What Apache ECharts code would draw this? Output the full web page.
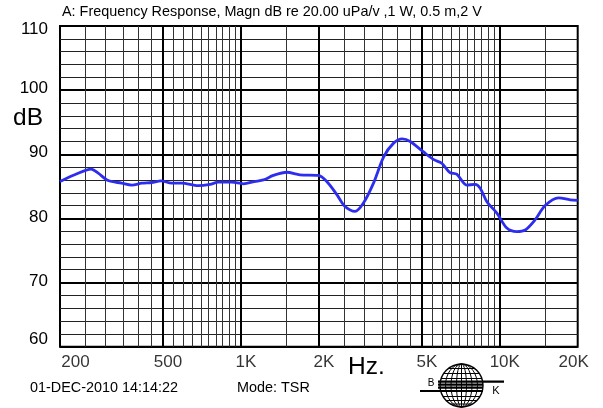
<!DOCTYPE html>
<html>
<head>
<meta charset="utf-8">
<script src="https://cdn.jsdelivr.net/npm/echarts@6/dist/echarts.min.js"></script>
<style>
html,body{margin:0;padding:0;background:#fff;}
#c{width:603px;height:408px;}
</style>
</head>
<body>
<div id="c"></div>
<script>
// ---- data ----
const freqHz = [200, 228, 264, 281, 307, 346, 379, 414, 452, 491, 540, 590, 684, 760, 818, 921, 1023, 1127, 1222, 1334, 1504, 1690, 1990, 2146, 2348, 2520, 2760, 2974, 3252, 3560, 3880, 4200, 4506, 5060, 5540, 5966, 6420, 6820, 7450, 8030, 8400, 8920, 9760, 10650, 11640, 12540, 13700, 14970, 16870, 18700, 20000];
const levelDb = [85.75, 86.8, 87.7, 87.05, 85.9, 85.5, 85.2, 85.5, 85.6, 85.85, 85.5, 85.5, 85.1, 85.3, 85.65, 85.65, 85.4, 85.75, 86.0, 86.7, 87.2, 86.8, 86.7, 85.75, 83.7, 81.9, 81.1, 82.4, 85.5, 89.6, 91.7, 92.4, 92.0, 90.4, 89.2, 88.6, 87.15, 86.9, 85.2, 85.3, 84.7, 82.6, 80.8, 78.5, 77.95, 78.2, 79.8, 82.0, 83.2, 82.9, 82.8];
const thinGridHz = [250, 300, 350, 400, 450, 550, 600, 650, 700, 750, 800, 850, 900, 950, 1500, 2500, 3000, 3500, 4000, 4500, 5500, 6000, 6500, 7000, 7500, 8000, 8500, 9000, 9500, 15000];
const thickGridHz = [500, 1000, 2000, 5000, 10000];
const tickHz = [200, 500, 1000, 2000, 5000, 10000, 20000];
const tickText = ['200', '500', '1K', '2K', '5K', '10K', '20K'];
const yTicks = [60, 70, 80, 90, 100, 110];
const titleText = 'A: Frequency Response, Magn dB re 20.00 uPa/v ,1 W, 0.5 m,2 V';
const dateText = '01-DEC-2010 14:14:22';
const modeText = 'Mode: TSR';

const FONT = '"Liberation Sans", Arial, sans-serif';
const chart = echarts.init(document.getElementById('c'), null, {renderer: 'canvas'});

const yMin = yTicks[0], yMax = yTicks[yTicks.length - 1];

const tickData = tickHz.map((f, i) => ({value: [f, yMin], name: tickText[i]}));

const gridLines = thinGridHz.map(v => ({xAxis: v, lineStyle: {width: 1, color: '#333', type: 'solid'}}))
  .concat(thickGridHz.map(v => ({xAxis: v, lineStyle: {width: 2, color: '#000', type: 'solid'}})));

// globe logo
const gcx = 461.5, gcy = 385.5, gr = 21.5;
const logo = [];
logo.push({type: 'circle', shape: {cx: gcx, cy: gcy, r: gr}, style: {fill: '#fff', stroke: '#000', lineWidth: 1.4}});
[5, 10.5, 16].forEach(rx => logo.push({type: 'ellipse', shape: {cx: gcx, cy: gcy, rx: rx, ry: gr}, style: {fill: null, stroke: '#000', lineWidth: 1}}));
logo.push({type: 'line', shape: {x1: gcx, y1: gcy - gr, x2: gcx, y2: gcy + gr}, style: {stroke: '#000', lineWidth: 1}});
[-17, -12, -7, 11, 15, 18.5].forEach(dy => {
  const hw = Math.sqrt(gr * gr - dy * dy);
  logo.push({type: 'line', shape: {x1: gcx - hw, y1: gcy + dy, x2: gcx + hw, y2: gcy + dy}, style: {stroke: '#000', lineWidth: 1}});
});
[[438, 504, 381.7], [438, 483, 384.6], [438, 483, 387.7], [420, 483, 391]].forEach(b => {
  logo.push({type: 'line', shape: {x1: b[0], y1: b[2], x2: b[1], y2: b[2]}, style: {stroke: '#000', lineWidth: 2.2}});
});
logo.push({type: 'text', x: 431, y: 383, style: {text: 'B', font: '10px ' + FONT, fill: '#000', align: 'center', verticalAlign: 'middle'}});
logo.push({type: 'text', x: 496, y: 391, style: {text: 'K', font: '11px ' + FONT, fill: '#000', align: 'center', verticalAlign: 'middle'}});

const tickRich = {fontSize: 17, fontFamily: FONT, color: '#000'};

const option = {
  backgroundColor: '#fff',
  animation: false,
  grid: {left: 60, right: 25.3, top: 26, bottom: 61.3, show: true, borderColor: '#000', borderWidth: 2, backgroundColor: 'transparent'},
  xAxis: {
    type: 'log', logBase: 10, min: 200, max: 20000,
    axisLine: {show: false}, axisTick: {show: false}, axisLabel: {show: false},
    splitLine: {show: false}, minorSplitLine: {show: false}
  },
  yAxis: [
    {
      type: 'value', min: yMin, max: yMax, interval: 2,
      axisLine: {show: false}, axisTick: {show: false}, axisLabel: {show: false},
      splitLine: {show: true, lineStyle: {color: '#222', width: 1}}
    },
    {
      type: 'value', min: yMin, max: yMax, interval: 10, position: 'left',
      axisLine: {show: false}, axisTick: {show: false},
      splitLine: {show: true, lineStyle: {color: '#000', width: 2}},
      axisLabel: {
        show: true, margin: 12, color: '#000', fontSize: 17, fontFamily: FONT,
        formatter: v => {
          if (v === yMin) return '{lo|' + v + '}';
          if (v === yMax) return '{hi|' + v + '}';
          return '{n|' + v + '}';
        },
        rich: {
          n: {fontSize: 17, fontFamily: FONT, color: '#000', padding: [0, 0, 3, 0]},
          lo: {fontSize: 17, fontFamily: FONT, color: '#000', padding: [0, 0, 15, 0]},
          hi: {fontSize: 17, fontFamily: FONT, color: '#000', padding: [7, 0, 0, 0]}
        }
      }
    }
  ],
  series: [
    {
      name: 'ticks', type: 'scatter', z: 1, clip: false, silent: true,
      symbol: 'circle', symbolSize: 1, itemStyle: {color: 'rgba(0,0,0,0)'},
      data: tickData,
      label: {
        show: true, position: 'bottom', distance: 7, color: '#000', fontSize: 17, fontFamily: FONT,
        formatter: p => {
          if (p.dataIndex === 0) return '{first|' + p.name + '}';
          if (p.dataIndex === tickHz.length - 1) return '{last|' + p.name + '}';
          return '{mid|' + p.name + '}';
        },
        rich: {
          first: Object.assign({padding: [0, 0, 0, 31]}, tickRich),
          mid: Object.assign({padding: [0, 0, 0, 10]}, tickRich),
          last: Object.assign({padding: [0, 8, 0, 0]}, tickRich)
        }
      },
      labelLayout: {hideOverlap: false},
      markLine: {silent: true, symbol: ['none', 'none'], label: {show: false}, emphasis: {disabled: true}, animation: false, data: gridLines}
    },
    {
      name: 'Magn', type: 'line', z: 5, yAxisIndex: 0, silent: true,
      data: freqHz.map((f, i) => [f, levelDb[i]]),
      showSymbol: false, symbol: 'none', smooth: 0.3,
      lineStyle: {color: '#2d2df0', width: 2.8}
    }
  ],
  graphic: [
    {type: 'text', x: 62, y: 12, style: {text: titleText, font: '14.4px ' + FONT, fill: '#000', verticalAlign: 'middle'}},
    {type: 'text', x: 13, y: 118, style: {text: 'dB', font: '24.5px ' + FONT, fill: '#000', verticalAlign: 'middle'}},
    {type: 'text', x: 348, y: 367, style: {text: 'Hz.', font: '24.5px ' + FONT, fill: '#000', verticalAlign: 'middle'}},
    {type: 'text', x: 30, y: 388, style: {text: dateText, font: '14.4px ' + FONT, fill: '#000', verticalAlign: 'middle'}},
    {type: 'text', x: 237, y: 388, style: {text: modeText, font: '14.4px ' + FONT, fill: '#000', verticalAlign: 'middle'}},
    {type: 'group', children: logo}
  ]
};
chart.setOption(option);
</script>
</body>
</html>
